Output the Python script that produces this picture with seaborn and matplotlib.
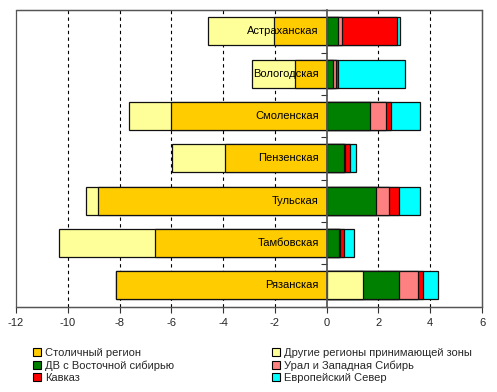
import matplotlib
matplotlib.use("Agg")
import matplotlib.pyplot as plt
import numpy as np
import pandas as pd
import seaborn as sns
from matplotlib.patches import Patch, Rectangle

# values (negative = left of zero)
regions = ['Астраханская', 'Вологодская', 'Смоленская', 'Пензенская',
           'Тульская', 'Тамбовская', 'Рязанская']
stolichny = [-2.03, -1.21, -6.0, -3.93, -8.84, -6.62, -8.12]
drugie = [-2.57, -1.69, -1.62, -2.06, -0.46, -3.70, 1.42]
dv_sibir = [0.45, 0.26, 1.66, 0.66, 1.92, 0.46, 1.38]
ural = [0.16, 0.08, 0.64, 0.04, 0.49, 0.05, 0.71]
kavkaz = [2.10, 0.10, 0.20, 0.20, 0.39, 0.17, 0.20]
evr_sever = [0.12, 2.60, 1.10, 0.25, 0.80, 0.38, 0.58]

series_names = ['Столичный регион', 'Другие регионы принимающей зоны',
                'ДВ с Восточной сибирью', 'Урал и Западная Сибирь',
                'Кавказ', 'Европейский Север']
colors = ['#FFCC00', '#FFFF99', '#008000', '#FF8080', '#FF0000', '#00FFFF']

sns.set_theme(style='white')
plt.rcParams['font.family'] = ['Liberation Sans', 'DejaVu Sans']
plt.rcParams['axes.unicode_minus'] = False

df = pd.DataFrame({'region': regions, 'stol': stolichny, 'drug': drugie,
                   'dv': dv_sibir, 'ural': ural, 'kavkaz': kavkaz, 'sever': evr_sever})
df['drug_neg'] = df['drug'].clip(upper=0)
df['drug_pos'] = df['drug'].clip(lower=0)

# cumulative ends, drawn largest first so smaller bars sit on top
layers = [
    (df['stol'] + df['drug_neg'], colors[1]),
    (df['stol'], colors[0]),
]
cum = df['drug_pos']
pos_cums = [(cum.copy(), colors[1])]
for col, c in [('dv', colors[2]), ('ural', colors[3]), ('kavkaz', colors[4]), ('sever', colors[5])]:
    cum = cum + df[col]
    pos_cums.append((cum.copy(), c))
layers += pos_cums[::-1]

fig = plt.figure(figsize=(4.97, 3.92), dpi=100)
ax = fig.add_axes([0.032, 0.218, 0.938, 0.756])

for vals, c in layers:
    d = pd.DataFrame({'region': regions, 'x': vals})
    d = d[d['x'] != 0]
    sns.barplot(data=d, x='x', y='region', order=regions, orient='h', color=c,
                width=0.66, edgecolor='#111111', linewidth=0.9, saturation=1,
                ax=ax, zorder=3)

for i, r in enumerate(regions):
    ax.text(-0.3, i, r, ha='right', va='center', fontsize=8, color='black', zorder=5)

for xv in [-10, -8, -6, -4, -2, 2, 4]:
    ax.axvline(xv, color='black', lw=0.8, ls=(0, (3, 3)), zorder=1)

ax.set_xlim(-12, 6)
ax.set_ylim(6.5, -0.5)
ax.set_xticks(np.arange(-12, 7, 2))
ax.set_xticklabels([str(v) for v in range(-12, 7, 2)], fontsize=8)
ax.set_yticks(np.arange(-0.5, 7, 1))
ax.set_yticklabels([])
ax.set_xlabel('')
ax.set_ylabel('')
ax.spines['left'].set_position(('data', 0))
ax.spines['left'].set_color('#555555')
ax.spines['left'].set_zorder(4)
for s in ['top', 'right', 'bottom']:
    ax.spines[s].set_color('#555555')
    ax.spines[s].set_linewidth(0.9)
ax.add_patch(Rectangle((0, 0), 1, 1, transform=ax.transAxes, fill=False,
                       edgecolor='#555555', lw=0.9, zorder=6, clip_on=False))
ax.tick_params(axis='x', direction='out', length=4, width=0.8, color='#333333', pad=4, bottom=True)
ax.tick_params(axis='y', direction='out', length=4, width=0.8, color='#333333', left=True)

handles = [Patch(facecolor=c, edgecolor='black', lw=0.8) for c in colors]
order = [0, 2, 4, 1, 3, 5]
fig.legend([handles[i] for i in order], [series_names[i] for i in order],
           ncol=2, loc='upper left', bbox_to_anchor=(0.067, 0.112), frameon=False,
           fontsize=8, handlelength=0.7, handleheight=0.7, handletextpad=0.35,
           labelspacing=0.2, columnspacing=8.8, borderaxespad=0, borderpad=0)

fig.savefig('out.png', dpi=100)
